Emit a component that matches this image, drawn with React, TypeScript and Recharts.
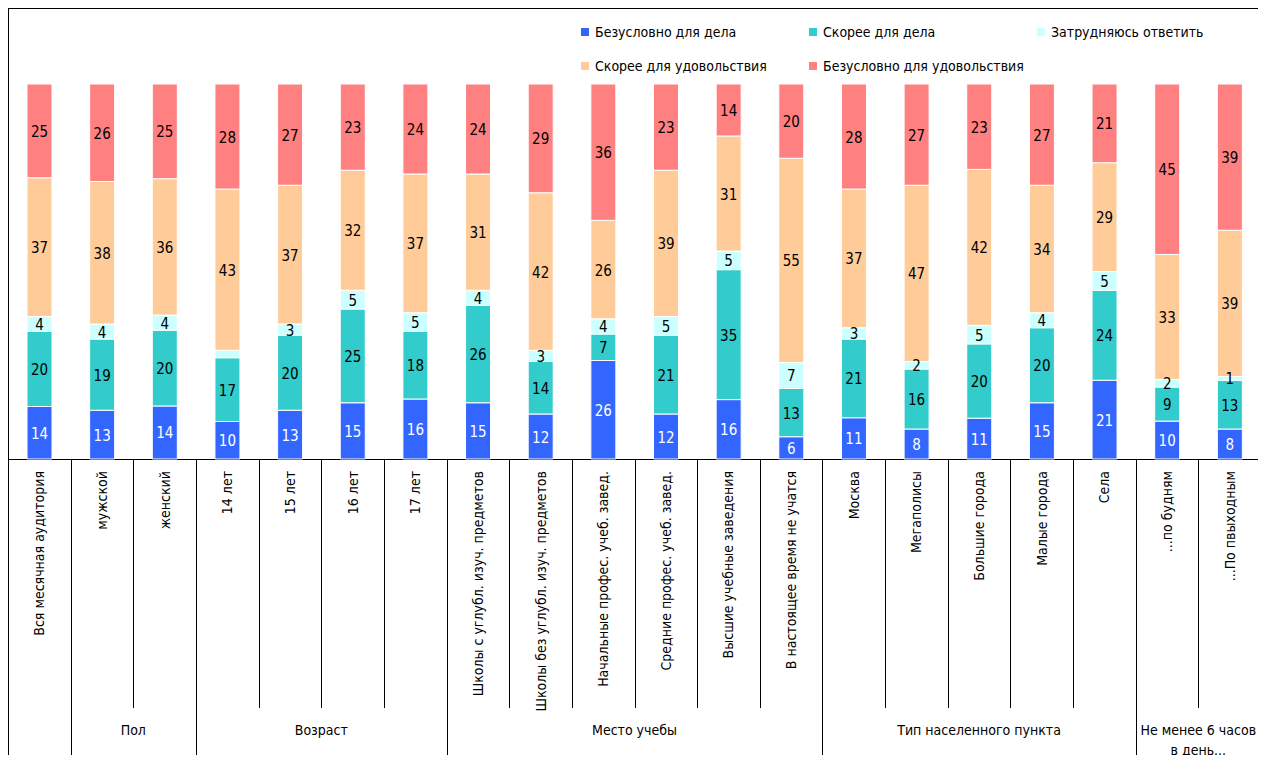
import React from "react";
import { BarChart, Bar, XAxis, YAxis, LabelList } from "recharts";

const categories = [
  "Вся месячная аудитория",
  "мужской",
  "женский",
  "14 лет",
  "15 лет",
  "16 лет",
  "17 лет",
  "Школы с углубл. изуч. предметов",
  "Школы без углубл. изуч. предметов",
  "Начальные профес. учеб. завед.",
  "Средние профес. учеб. завед.",
  "Высшие учебные заведения",
  "В настоящее время не учатся",
  "Москва",
  "Мегаполисы",
  "Большие города",
  "Малые города",
  "Села",
  "...по будням",
  "...По пвыходным",
];

const surelyWork = [14, 13, 14, 10, 13, 15, 16, 15, 12, 26, 12, 16, 6, 11, 8, 11, 15, 21, 10, 8];
const ratherWork = [20, 19, 20, 17, 20, 25, 18, 26, 14, 7, 21, 35, 13, 21, 16, 20, 20, 24, 9, 13];
const unsure = [4, 4, 4, 2, 3, 5, 5, 4, 3, 4, 5, 5, 7, 3, 2, 5, 4, 5, 2, 1];
const ratherFun = [37, 38, 36, 43, 37, 32, 37, 31, 42, 26, 39, 31, 55, 37, 47, 42, 34, 29, 33, 39];
const surelyFun = [25, 26, 25, 28, 27, 23, 24, 24, 29, 36, 23, 14, 20, 28, 27, 23, 27, 21, 45, 39];

// segments drawn without a number in the original
const unlabeledUnsure = ["14 лет"];

const groups = [
  { name: [] as string[], size: 1 },
  { name: ["Пол"], size: 2 },
  { name: ["Возраст"], size: 4 },
  { name: ["Место учебы"], size: 6 },
  { name: ["Тип населенного пункта"], size: 5 },
  { name: ["Не менее 6 часов", "в день..."], size: 2 },
];

const series = [
  { key: "surelyWork", name: "Безусловно для дела", color: "#3366FF", text: "#fff" },
  { key: "ratherWork", name: "Скорее для дела", color: "#33CCCC", text: "#000" },
  { key: "unsure", name: "Затрудняюсь ответить", color: "#CCFFFF", text: "#000" },
  { key: "ratherFun", name: "Скорее для удовольствия", color: "#FFCC99", text: "#000" },
  { key: "surelyFun", name: "Безусловно для удовольствия", color: "#FF8080", text: "#000" },
];

const data = categories.map((name, i) => ({
  name,
  surelyWork: surelyWork[i],
  ratherWork: ratherWork[i],
  unsure: unsure[i],
  ratherFun: ratherFun[i],
  surelyFun: surelyFun[i],
}));

const FONT = "'DejaVu Sans Condensed', 'Liberation Sans Narrow', sans-serif";
const W = 1254;
const H = 755;
const PLOT_W = 1253;
const AXIS_H = 304;
const PLOT_BOTTOM = H - AXIS_H;
const BAND = PLOT_W / categories.length;

const groupStart: Record<number, number> = {};
{
  let idx = 0;
  groups.forEach((g, gi) => {
    groupStart[idx] = gi;
    idx += g.size;
  });
}

const px = (v: number) => Math.round(v) + 0.5;

function CategoryTick(props: any) {
  const { x, index, payload } = props;
  const left = x - BAND / 2;
  const gi = groupStart[index];
  const starts = gi !== undefined;
  const g = starts ? groups[gi] : null;
  const isLast = index === categories.length - 1;
  return (
    <g>
      <line
        x1={px(left)}
        x2={px(left)}
        y1={PLOT_BOTTOM}
        y2={starts ? H : 700}
        stroke="#000"
        strokeWidth={1}
      />
      {isLast && (
        <line x1={px(left + BAND)} x2={px(left + BAND)} y1={PLOT_BOTTOM} y2={H} stroke="#000" />
      )}
      <text
        x={x}
        y={PLOT_BOTTOM + 12}
        transform={`rotate(-90, ${x}, ${PLOT_BOTTOM + 12})`}
        textAnchor="end"
        dominantBaseline="central"
        fontSize={14}
        fontFamily={FONT}
        fill="#000"
      >
        {payload.value}
      </text>
      {g &&
        g.name.map((line, li) => (
          <text
            key={li}
            x={left + (g.size * BAND) / 2}
            y={722 + li * 20}
            textAnchor="middle"
            dominantBaseline="central"
            fontSize={14}
            fontFamily={FONT}
            fill="#000"
          >
            {line}
          </text>
        ))}
    </g>
  );
}

function makeLabel(s: (typeof series)[number]) {
  return (p: any) => {
    const { x, y, width, height, value, index } = p;
    if (s.key === "unsure" && unlabeledUnsure.includes(categories[index])) return null;
    return (
      <text
        x={x + width / 2}
        y={y + height / 2 + 1}
        textAnchor="middle"
        dominantBaseline="central"
        fontSize={15}
        fontFamily={FONT}
        fill={s.text}
      >
        {value}
      </text>
    );
  };
}

function LegendBox() {
  return (
    <div
      style={{
        position: "absolute",
        left: 573,
        top: 14,
        display: "grid",
        gridTemplateColumns: "228px 228px 228px",
        rowGap: 14,
        fontFamily: FONT,
        fontSize: 14,
      }}
    >
      {series.map((s) => (
        <div key={s.key} style={{ display: "flex", alignItems: "center", height: 20, whiteSpace: "nowrap" }}>
          <span
            style={{ width: 8, height: 8, background: s.color, display: "inline-block", marginRight: 6 }}
          />
          <span>{s.name}</span>
        </div>
      ))}
    </div>
  );
}

export default function App() {
  return (
    <div style={{ position: "relative", width: W, height: H - 8 }}>
      <div
        style={{
          position: "absolute",
          left: 0,
          top: 0,
          width: W,
          height: PLOT_BOTTOM + 1,
          border: "1px solid #000",
          boxSizing: "border-box",
        }}
      />
      <LegendBox />
      <div style={{ position: "absolute", left: 0, top: 0 }}>
        <BarChart
          width={W}
          height={H}
          data={data}
          stackOffset="expand"
          margin={{ top: 76, right: 1, left: 0, bottom: 0 }}
        >
          <XAxis
            dataKey="name"
            interval={0}
            height={AXIS_H}
            tickLine={false}
            axisLine={false}
            tick={<CategoryTick />}
          />
          <YAxis hide domain={[0, 1]} />
          {series.map((s) => (
            <Bar
              key={s.key}
              dataKey={s.key}
              name={s.name}
              stackId="a"
              fill={s.color}
              stroke="#fff"
              strokeWidth={1}
              barSize={25}
              isAnimationActive={false}
            >
              <LabelList dataKey={s.key} content={makeLabel(s)} />
            </Bar>
          ))}
        </BarChart>
      </div>
    </div>
  );
}
